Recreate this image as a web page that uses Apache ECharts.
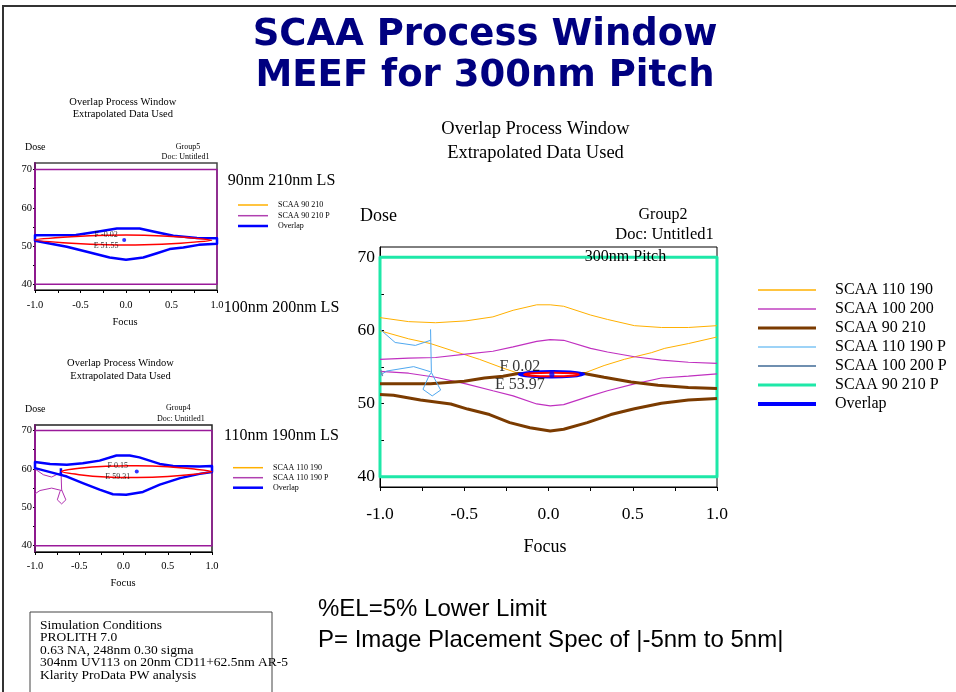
<!DOCTYPE html>
<html>
<head>
<meta charset="utf-8">
<script src="https://cdn.jsdelivr.net/npm/echarts@6/dist/echarts.min.js"></script>
<style>
  html, body { margin: 0; padding: 0; background: #fff; }
  #chart { width: 956px; height: 692px; }
</style>
</head>
<body>
<div id="chart"></div>
<script>
// ---- axis ticks and labels ----
const focusTicks = [-1, -0.75, -0.5, -0.25, 0, 0.25, 0.5, 0.75, 1];
const focusLabels = [-1, -0.5, 0, 0.5, 1];
const doseTicks = [40, 45, 50, 55, 60, 65, 70];
const doseLabels = [40, 50, 60, 70];

// ---- 300nm pitch overlap window (focus, dose) ----
const scaa110_190Upper = [[-1.0,61.75],[-0.83,61.2],[-0.67,61.05],[-0.49,61.3],[-0.33,61.85],[-0.21,62.75],[-0.07,63.5],[0.01,63.5],[0.09,63.3],[0.25,62.1],[0.35,61.5],[0.51,60.65],[0.67,60.4],[0.83,60.4],[1.0,60.65]];
const scaa110_190Lower = [[-1.0,59.95],[-0.83,58.85],[-0.7,58.2],[-0.56,57.15],[-0.41,56.05],[-0.27,54.85],[-0.18,54.15],[0.02,53.95],[0.21,54.15],[0.33,55.2],[0.45,56.05],[0.61,56.95],[0.69,57.55],[0.83,58.2],[1.0,59.1]];
const scaa100_200Upper = [[-1.0,56.05],[-0.83,56.2],[-0.67,56.3],[-0.49,56.75],[-0.33,57.15],[-0.21,57.75],[-0.07,58.5],[0.01,58.75],[0.09,58.65],[0.25,57.55],[0.35,57.05],[0.51,56.4],[0.67,55.95],[0.83,55.65],[1.0,55.5]];
const scaa100_200Lower = [[-1.0,54.4],[-0.83,54.15],[-0.67,53.6],[-0.49,52.7],[-0.33,51.75],[-0.21,51.05],[-0.07,49.95],[0.01,49.7],[0.09,49.85],[0.25,51.05],[0.35,51.75],[0.51,52.7],[0.67,53.5],[0.83,53.75],[1.0,54.05]];
const scaa90_210Upper = [[-1.0,52.7],[-0.7,52.7],[-0.5,53.05],[-0.38,53.5],[-0.27,53.75],[-0.18,54.1],[0.02,54.15],[0.21,54.1],[0.33,53.6],[0.49,52.95],[0.65,52.5],[0.83,52.2],[1.0,52.05]];
const scaa90_210Lower = [[-1.0,51.25],[-0.92,51.15],[-0.76,50.5],[-0.58,49.95],[-0.48,49.25],[-0.35,48.5],[-0.23,47.4],[-0.11,46.7],[0.01,46.25],[0.09,46.5],[0.23,47.4],[0.37,48.5],[0.51,49.3],[0.67,50.05],[0.83,50.5],[1.0,50.7]];
const scaa110_190P_a = [[-1.0,60.15],[-0.91,58.35],[-0.79,57.95],[-0.70,58.65]];
const scaa110_190P_b = [[-0.70,60.15],[-0.695,54.25],[-0.675,53.35],[-0.64,51.85],[-0.69,51.05],[-0.745,51.95],[-0.71,53.75],[-0.695,54.25]];
const scaa110_190P_c = [[-1.0,53.85],[-0.96,54.45],[-0.80,55.05],[-0.70,54.35]];
const scaa100_200P = [[-0.995,54.55],[-0.985,53.75]];
const scaa90_210P = [[-1,40],[1,40],[1,70],[-1,70]];
const overlapMain = [[-0.175,54.02],[-0.1,54.3],[0.02,54.4],[0.13,54.32],[0.21,54.02],[0.13,53.72],[0.02,53.63],[-0.1,53.72]];
const ellipseMain = [[-0.145,53.97],[-0.1,54.15],[0.02,54.22],[0.14,54.15],[0.18,53.97],[0.14,53.79],[0.02,53.72],[-0.1,53.79]];
const centerMain = [[0.02, 53.97]];

// ---- 90nm 210nm LS ----
const win90_210P = [[-1,40],[1,40],[1,70],[-1,70]];
const overlap90_210 = [[-1,52.8],[-0.55,52.9],[-0.3,53.8],[-0.1,54.6],[0.15,54.6],[0.3,53.8],[0.52,52.7],[0.78,52.1],[1.0,52.0],[1.0,50.6],[0.8,50.3],[0.63,49.6],[0.48,49.2],[0.34,48.1],[0.19,47.0],[0.0,46.4],[-0.18,47.0],[-0.43,48.5],[-0.65,49.8],[-1,51.4]];
const ellipse90_210 = [[-1.0,51.6],[-0.6,52.4],[-0.2,52.8],[0.2,52.8],[0.6,52.35],[0.94,51.5],[0.6,50.75],[0.2,50.3],[-0.2,50.3],[-0.6,50.75]];
const center90_210 = [[-0.02, 51.55]];

// ---- 110nm 190nm LS ----
const win110_190P = [[-1,40],[1,40],[1,70],[-1,70]];
const p110_190_a = [[-1.0,59.97],[-0.906,58.48],[-0.812,57.88],[-0.718,58.93]];
const p110_190_b = [[-0.707,59.97],[-0.699,54.55],[-0.651,51.94],[-0.699,50.89],[-0.748,51.94],[-0.718,54.1],[-0.699,54.55]];
const p110_190_c = [[-1.0,53.5],[-0.944,54.37],[-0.812,55.0],[-0.699,54.37]];
const overlap110_190 = [[-1,61.8],[-0.83,61.3],[-0.64,61.1],[-0.46,61.45],[-0.27,62.15],[-0.08,63.5],[0.07,63.5],[0.18,63.0],[0.41,61.3],[0.56,60.75],[0.86,60.6],[1,60.75],[1,59.2],[0.86,58.7],[0.64,57.6],[0.41,55.9],[0.22,54.0],[0.03,53.25],[-0.12,53.4],[-0.27,54.6],[-0.46,56.3],[-0.64,58.0],[-0.72,58.5],[-1,60.2]];
const overlapSpike110_190 = [[-0.707,60.2],[-0.707,58.3]];
const ellipse110_190 = [[-0.7,59.31],[-0.5,60.15],[-0.2,60.7],[0.15,60.82],[0.5,60.55],[0.8,59.95],[1.0,59.31],[0.8,58.6],[0.5,58.0],[0.15,57.75],[-0.2,57.9],[-0.5,58.5]];
const center110_190 = [[0.15, 59.31]];

// ---- legends ----
const mainLegend = ['SCAA 110 190','SCAA 100 200','SCAA 90 210','SCAA 110 190 P','SCAA 100 200 P','SCAA 90 210 P','Overlap'];
const legend90_210 = ['SCAA 90 210','SCAA 90 210 P','Overlap'];
const legend110_190 = ['SCAA 110 190','SCAA 110 190 P','Overlap'];

const SERIF = '"Liberation Serif", "Times New Roman", serif';
const SANS = '"Liberation Sans", Arial, sans-serif';

const C = {
  orange: '#FFB000', violet: '#C030C0', brown: '#7B3B00', lightBlue: '#4FA8F0',
  steel: '#6F8FB0', aqua: '#1EE8A8', blue: '#0000FF', red: '#FF0000', purple: '#9A1A9A'
};

function xAxis(gi, fontSize, margin, tickLen) {
  return {
    type: 'value', gridIndex: gi, min: -1, max: 1,
    axisLine: { show: true, onZero: false, lineStyle: { color: '#000', width: 1 } },
    axisTick: { show: true, customValues: focusTicks, length: tickLen, lineStyle: { color: '#000' } },
    axisLabel: { customValues: focusLabels, fontFamily: SERIF, fontSize, color: '#000', margin,
      formatter: v => (Math.round(v * 10) / 10).toFixed(1) },
    splitLine: { show: false }
  };
}
function yAxis(gi, min, max, fontSize, margin, tickLen, inside, lineColor, lineWidth) {
  return {
    type: 'value', gridIndex: gi, min, max,
    axisLine: { show: true, onZero: false, lineStyle: { color: lineColor, width: lineWidth } },
    axisTick: { show: true, inside, customValues: doseTicks, length: tickLen, lineStyle: { color: '#000' } },
    axisLabel: { customValues: doseLabels, fontFamily: SERIF, fontSize, color: '#000', margin },
    splitLine: { show: false }
  };
}

function line(name, pts, ax, color, width, z) {
  return { type: 'line', name, data: pts, xAxisIndex: ax, yAxisIndex: ax, symbol: 'none',
    showSymbol: false, lineStyle: { color, width }, itemStyle: { color }, z, silent: true, clip: false };
}
function shape(name, pts, ax, stroke, width, fill, z, smooth) {
  return {
    type: 'custom', name, coordinateSystem: 'cartesian2d', xAxisIndex: ax, yAxisIndex: ax,
    data: [pts[0]], z, silent: true,
    renderItem: (params, api) => ({
      type: 'polygon',
      shape: { points: pts.map(p => api.coord(p)), smooth: smooth || 0 },
      style: { fill: fill || 'none', stroke, lineWidth: width, lineJoin: 'round' }
    })
  };
}
function center(pts, ax, size, fontSize, lineHeight, offset) {
  return {
    type: 'scatter', data: pts, xAxisIndex: ax, yAxisIndex: ax, symbol: 'circle', symbolSize: size,
    itemStyle: { color: C.blue }, z: 12, silent: true,
    label: { show: true, position: 'inside', offset, fontFamily: SERIF, fontSize, lineHeight, color: '#000',
      align: 'center',
      formatter: p => 'F ' + p.value[0].toFixed(2) + '\nE ' + p.value[1].toFixed(2) }
  };
}

const series = [
  // 300nm pitch
  shape('SCAA 90 210 P', scaa90_210P, 0, C.aqua, 3, null, 2),
  line('SCAA 110 190', scaa110_190Upper, 0, C.orange, 1, 3),
  line('SCAA 110 190', scaa110_190Lower, 0, C.orange, 1, 3),
  line('SCAA 100 200', scaa100_200Upper, 0, C.violet, 1.2, 3),
  line('SCAA 100 200', scaa100_200Lower, 0, C.violet, 1.2, 3),
  line('SCAA 90 210', scaa90_210Upper, 0, C.brown, 3, 4),
  line('SCAA 90 210', scaa90_210Lower, 0, C.brown, 3, 4),
  line('SCAA 110 190 P', scaa110_190P_a, 0, C.lightBlue, 1, 5),
  line('SCAA 110 190 P', scaa110_190P_b, 0, C.lightBlue, 1, 5),
  line('SCAA 110 190 P', scaa110_190P_c, 0, C.lightBlue, 1, 5),
  line('SCAA 100 200 P', scaa100_200P, 0, C.steel, 1.5, 5),
  shape('Overlap', overlapMain, 0, C.blue, 3, C.blue, 8, 0.4),
  shape('Ellipse', ellipseMain, 0, C.red, 2, '#fff', 9, 0.4),
  center(centerMain, 0, [5, 7], 16, 18, [-32, 1]),
  // 90nm 210nm LS
  shape('SCAA 90 210 P', win90_210P, 1, C.purple, 1.5, null, 2),
  shape('Overlap', overlap90_210, 1, C.blue, 2.5, null, 8),
  shape('Ellipse', ellipse90_210, 1, C.red, 1.5, null, 9, 0.2),
  center(center90_210, 1, 4, 8, 11, [-18, 0]),
  // 110nm 190nm LS
  shape('SCAA 110 190 P', win110_190P, 2, C.purple, 1.5, null, 2),
  line('SCAA 110 190 P', p110_190_a, 2, '#B030B0', 1, 3),
  line('SCAA 110 190 P', p110_190_b, 2, '#B030B0', 1, 3),
  line('SCAA 110 190 P', p110_190_c, 2, '#B030B0', 1, 3),
  shape('Overlap', overlap110_190, 2, C.blue, 2.5, null, 8),
  line('Overlap', overlapSpike110_190, 2, C.blue, 2.5, 8),
  shape('Ellipse', ellipse110_190, 2, C.red, 1.5, null, 9, 0.3),
  center(center110_190, 2, 4, 8, 11, [-19, 0])
];

// ---- text and decorations ----
function T(x, y, text, size, align, family, extra) {
  return Object.assign({ type: 'text', x, y, silent: true, z: 50,
    style: { text, fontSize: size, fontFamily: family || SERIF, fill: '#000',
      align: align || 'left', verticalAlign: 'middle' } }, extra || {});
}
function seg(x1, x2, y, color, width) {
  return { type: 'line', silent: true, z: 50, shape: { x1, y1: y, x2, y2: y },
    style: { stroke: color, lineWidth: width } };
}
function legend(names, styles, x1, x2, tx, rows, size) {
  const out = [];
  names.forEach((n, i) => {
    out.push(seg(x1, x2, rows[i], styles[i][0], styles[i][1]));
    out.push(T(tx, rows[i], n, size));
  });
  return out;
}

const graphic = [
  { type: 'polyline', silent: true, shape: { points: [[3, 692], [3, 6], [956, 6]] },
    style: { stroke: '#333', lineWidth: 2, fill: null } },
  { type: 'text', x: 485, y: 35, silent: true,
    style: { text: 'SCAA Process Window', font: 'bold 37px "DejaVu Sans"', fill: '#000080', align: 'center', verticalAlign: 'middle' } },
  { type: 'text', x: 485, y: 76, silent: true,
    style: { text: 'MEEF for 300nm Pitch', font: 'bold 37px "DejaVu Sans"', fill: '#000080', align: 'center', verticalAlign: 'middle' } },

  // 300nm pitch chart
  T(535.5, 129, 'Overlap Process Window', 18.5, 'center'),
  T(535.5, 153, 'Extrapolated Data Used', 18.5, 'center'),
  T(360, 216, 'Dose', 18),
  T(663, 215, 'Group2', 16, 'center'),
  T(664.5, 235, 'Doc: Untitled1', 16.5, 'center'),
  T(625.5, 257, '300nm Pitch', 16, 'center'),
  T(545, 547, 'Focus', 18, 'center'),
  ...legend(mainLegend,
    [[C.orange, 1.5], ['#D070D0', 2], [C.brown, 3], ['#7CC4F4', 1.5], [C.steel, 2], [C.aqua, 3], [C.blue, 4]],
    758, 816, 835, [290, 309, 328, 347, 366, 385, 404], 16),

  // 90nm 210nm LS
  T(122.8, 102.3, 'Overlap Process Window', 10.5, 'center'),
  T(122.8, 114.3, 'Extrapolated Data Used', 10.5, 'center'),
  T(25, 147.3, 'Dose', 10),
  T(188, 147, 'Group5', 8, 'center'),
  T(185.5, 157, 'Doc: Untitled1', 8, 'center'),
  T(281.5, 181, '90nm 210nm LS', 16, 'center'),
  T(125, 322.7, 'Focus', 10.5, 'center'),
  ...legend(legend90_210, [[C.orange, 1.5], ['#B040B0', 1.5], [C.blue, 2.5]],
    238, 268, 278, [205, 215.7, 226], 8),
  T(281.5, 308, '100nm 200nm LS', 16, 'center'),

  // 110nm 190nm LS
  T(120.5, 363.3, 'Overlap Process Window', 10.5, 'center'),
  T(120.5, 376.7, 'Extrapolated Data Used', 10.5, 'center'),
  T(25, 409.3, 'Dose', 10),
  T(178.3, 408.3, 'Group4', 8, 'center'),
  T(180.8, 419, 'Doc: Untitled1', 8, 'center'),
  T(281.5, 435.7, '110nm 190nm LS', 16, 'center'),
  T(123, 583.7, 'Focus', 10.5, 'center'),
  ...legend(legend110_190, [[C.orange, 1.5], ['#B040B0', 1.5], [C.blue, 2.5]],
    233, 263, 273, [467.7, 477.7, 487.7], 8),

  // simulation notes
  { type: 'rect', silent: true, shape: { x: 30, y: 612, width: 242, height: 100 },
    style: { fill: null, stroke: '#444', lineWidth: 1 } },
  T(40, 625, 'Simulation Conditions', 13.5),
  T(40, 637.5, 'PROLITH 7.0', 13.5),
  T(40, 650, '0.63 NA, 248nm 0.30 sigma', 13.5),
  T(40, 662.7, '304nm UV113 on 20nm CD11+62.5nm AR-5', 13.5),
  T(40, 675.5, 'Klarity ProData PW analysis', 13.5),
  T(318, 609, '%EL=5% Lower Limit', 24, 'left', SANS),
  T(318, 640, 'P= Image Placement Spec of |-5nm to 5nm|', 24, 'left', SANS)
];

const chart = echarts.init(document.getElementById('chart'), null, { renderer: 'canvas' });
chart.setOption({
  animation: false,
  backgroundColor: '#fff',
  grid: [
    { left: 380, top: 247, width: 337, height: 240, show: true, borderColor: '#000', borderWidth: 1, containLabel: false, outerBoundsMode: 'none' },
    { left: 35, top: 163, width: 182, height: 127, show: true, borderColor: '#444', borderWidth: 1.5, containLabel: false, outerBoundsMode: 'none' },
    { left: 35, top: 425, width: 177, height: 127, show: true, borderColor: '#222', borderWidth: 1.5, containLabel: false, outerBoundsMode: 'none' }
  ],
  xAxis: [
    xAxis(0, 17.5, 18, 4),
    xAxis(1, 10.5, 10, 3),
    xAxis(2, 10.5, 8.5, 3)
  ],
  yAxis: [
    yAxis(0, 38.6, 71.4, 17.5, 5, 4, true, '#000', 1),
    yAxis(1, 38.5, 71.7, 10.5, 3, 2, false, '#6A1B6A', 2),
    yAxis(2, 38.36, 71.43, 10.5, 3, 2, false, '#6A1B6A', 2)
  ],
  series,
  graphic
});
</script>
</body>
</html>
